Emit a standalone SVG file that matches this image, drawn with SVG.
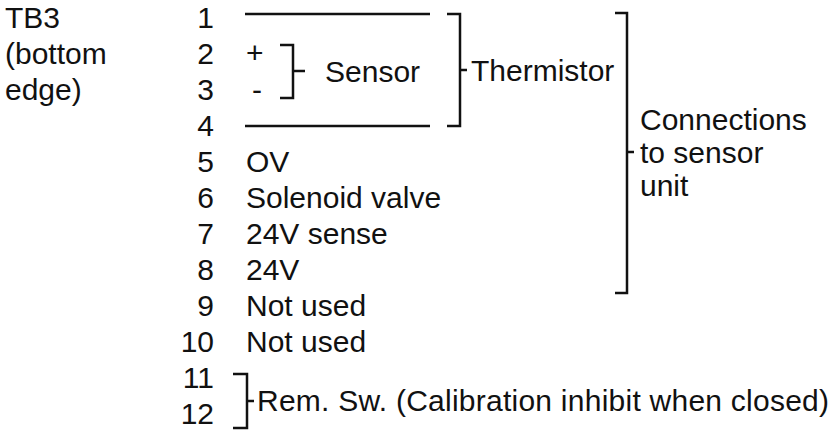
<svg xmlns="http://www.w3.org/2000/svg" width="835" height="436" viewBox="0 0 835 436">
<style>
text{font-family:"Liberation Sans",Arial,sans-serif;font-size:30px;fill:#111}
.n{text-anchor:end}
.ln{stroke:#111;stroke-width:2.5;fill:none}
</style>
<rect width="835" height="436" fill="#fff"/>
<g id="title">
<text x="5" y="28">TB3</text>
<text x="5" y="64">(bottom</text>
<text x="5" y="100">edge)</text>
</g>
<g id="pins">
<text class="n" x="214" y="28">1</text>
<text class="n" x="214" y="64">2</text>
<text class="n" x="214" y="100">3</text>
<text class="n" x="214" y="136">4</text>
<text class="n" x="214" y="172">5</text>
<text class="n" x="214" y="208">6</text>
<text class="n" x="214" y="244">7</text>
<text class="n" x="214" y="280">8</text>
<text class="n" x="214" y="316">9</text>
<text class="n" x="214" y="352">10</text>
<text class="n" x="214" y="388">11</text>
<text class="n" x="214" y="424">12</text>
</g>
<g id="labels">
<text x="246" y="63">+</text>
<text x="252" y="100">-</text>
<text x="325" y="82">Sensor</text>
<text x="246" y="172">OV</text>
<text x="246" y="208">Solenoid valve</text>
<text x="246" y="244">24V sense</text>
<text x="246" y="280">24V</text>
<text x="246" y="316">Not used</text>
<text x="246" y="352">Not used</text>
<text x="471" y="81">Thermistor</text>
<text x="640" y="130">Connections</text>
<text x="640" y="163">to sensor</text>
<text x="640" y="196">unit</text>
<text x="257" y="411" textLength="572" lengthAdjust="spacing">Rem. Sw. (Calibration inhibit when closed)</text>
</g>
<g id="connectors">
<path class="ln" d="M245 14H430M245 126H430"/>
<path class="ln" d="M280 45H293V98H280M293 71H305"/>
<path class="ln" d="M447 14H460V126H447M460 70H467"/>
<path class="ln" d="M615 13H627V293H615M627 152H634"/>
<path class="ln" d="M233 374H247V428H233M247 401H254"/>
</g>
</svg>
